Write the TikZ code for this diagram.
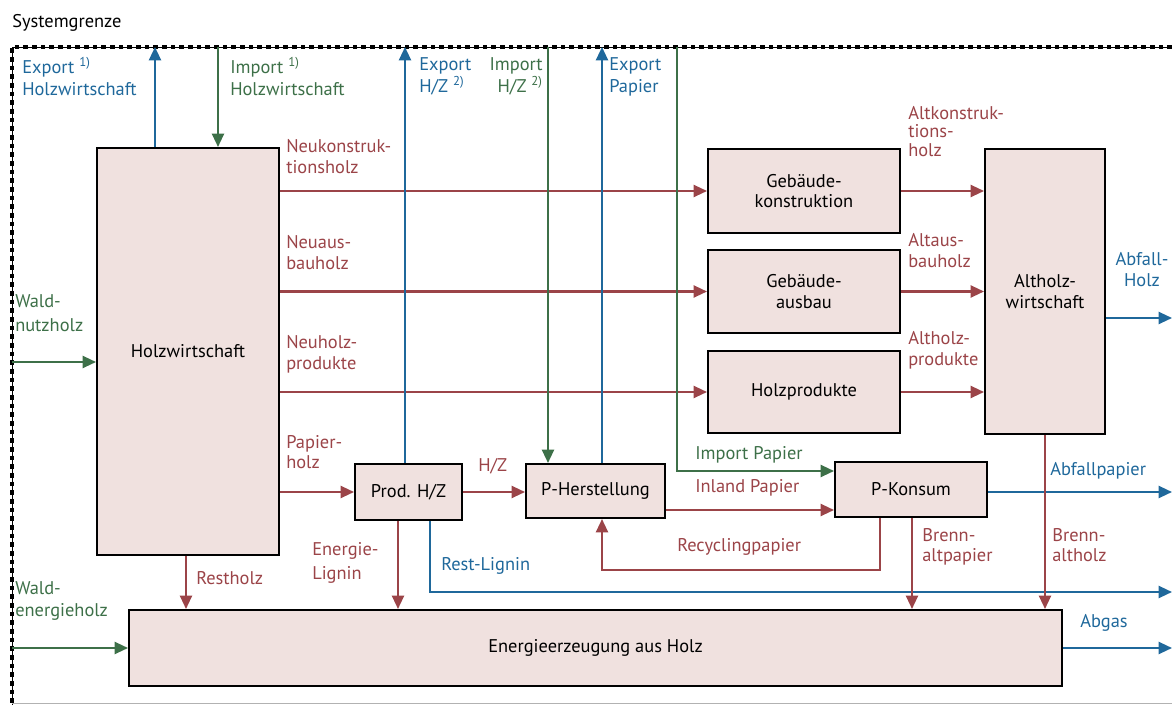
\documentclass[tikz,border=0pt]{standalone}
\usepackage{fontspec}
\setmainfont{PT Sans}
\usetikzlibrary{arrows.meta}

\definecolor{flowred}{RGB}{155,68,72}
\definecolor{flowblue}{RGB}{31,104,155}
\definecolor{flowgreen}{RGB}{61,112,72}
\definecolor{boxfill}{RGB}{240,225,223}

\tikzset{
	proc/.style={draw=black, line width=1.5pt, fill=boxfill, inner sep=0pt, align=center},
	flow/.style={line width=1.6pt, -{Triangle[length=10pt,width=9pt]}},
	redflow/.style={flow, color=flowred},
	blueflow/.style={flow, color=flowblue},
	greenflow/.style={flow, color=flowgreen},
	lab/.style={inner sep=0pt, align=left, anchor=north west},
	labline/.style={inner sep=0pt, anchor=west},
}

\begin{document}
\begin{tikzpicture}[x=0.75pt,y=0.75pt,yscale=-1,xscale=1, every node/.style={font=\fontsize{13.8}{15.5}\selectfont}]
	\useasboundingbox (0,0) rectangle (1172,705);
	
	%Systemgrenze
	\coordinate (sgTL) at (12,47);
	\coordinate (sgTR) at (1172,47);
	\coordinate (sgBL) at (12,705);
	\draw [black, line width=0.6pt] (sgTR) -- (sgTL) -- (sgBL);
	\draw [black, line width=3.5pt, dash pattern=on 3.5pt off 3pt] (sgTR) -- (sgTL) -- (sgBL);
	\draw [black!30, line width=1pt] (12,703.5) -- (1172,703.5);
	\node [labline] (t-sg) at (12,23) {Systemgrenze};
	
	%Shape: Processes
	\node [proc, minimum width=136.5pt, minimum height=305.25pt] (hw) at (188,351.5) {Holzwirtschaft};
	\node [proc, minimum width=144pt, minimum height=63pt] (gk) at (804,191) {Gebäude-\\konstruktion};
	\node [proc, minimum width=144pt, minimum height=62.25pt] (ga) at (804,291.5) {Gebäude-\\ausbau};
	\node [proc, minimum width=144pt, minimum height=61.5pt] (hp) at (804,392) {Holzprodukte};
	\node [proc, minimum width=90pt, minimum height=213.75pt] (ahw) at (1045,291.5) {Altholz-\\wirtschaft};
	\node [proc, minimum width=80.25pt, minimum height=42pt] (phz) at (408.5,492) {Prod. H/Z};
	\node [proc, minimum width=104.25pt, minimum height=40.5pt] (ph) at (595.5,491) {P-Herstellung};
	\node [proc, minimum width=114pt, minimum height=41.25pt] (pk) at (911,489.5) {P-Konsum};
	\node [proc, minimum width=699.75pt, minimum height=57pt] (ee) at (595.5,648) {Energieerzeugung aus Holz};
	
	%Points on the boundary and bends
	\coordinate (exHW) at (155,47);
	\coordinate (imHW) at (218,47);
	\coordinate (exHZ) at (405,47);
	\coordinate (imHZ) at (548,47);
	\coordinate (exP) at (602,47);
	\coordinate (imP) at (677,47);
	\coordinate (wn) at (12,362);
	\coordinate (we) at (12,648);
	\coordinate (ip) at (0,471);
	\coordinate (il) at (0,510);
	\coordinate (rc) at (880,570);
	\coordinate (rh) at (186,0);
	\coordinate (el) at (398,0);
	\coordinate (bp) at (912,0);
	\coordinate (rl) at (430,592);
	\coordinate (rlEnd) at (1172,592);
	\coordinate (ah) at (1172,318);
	\coordinate (ap) at (1172,492);
	\coordinate (ag) at (1172,648);
	
	%Red flows
	\draw [redflow] (hw.east |- gk.west) -- (gk.west);
	\draw [redflow] (hw.east |- ga.west) -- (ga.west);
	\draw [redflow] (hw.east |- hp.west) -- (hp.west);
	\draw [redflow] (hw.east |- phz.west) -- (phz.west);
	\draw [redflow] (phz.east) -- (ph.west |- phz.east);
	\draw [redflow] (gk.east) -- (gk.east -| ahw.west);
	\draw [redflow] (ga.east) -- (ga.east -| ahw.west);
	\draw [redflow] (hp.east) -- (hp.east -| ahw.west);
	\draw [redflow] (ph.east |- il) -- (pk.west |- il);
	\draw [redflow] (rc |- pk.south) -- (rc) -- (rc -| exP) -- (exP |- ph.south);
	\draw [redflow] (rh |- hw.south) -- (rh |- ee.north);
	\draw [redflow] (el |- phz.south) -- (el |- ee.north);
	
	%Blue flows
	\draw [blueflow] (exHW |- hw.north) -- (exHW);
	\draw [blueflow] (exHZ |- phz.north) -- (exHZ);
	\draw [blueflow] (exP |- ph.north) -- (exP);
	\draw [blueflow] (rl |- phz.south) -- (rl) -- (rlEnd);
	\draw [blueflow] (ahw.east |- ah) -- (ah);
	\draw [blueflow] (pk.east |- ap) -- (ap);
	\draw [blueflow] (ee.east) -- (ag);
	
	%Green flows
	\draw [greenflow] (wn) -- (wn -| hw.west);
	\draw [greenflow] (we) -- (ee.west);
	\draw [greenflow] (imHW) -- (imHW |- hw.north);
	\draw [greenflow] (imHZ) -- (imHZ |- ph.north);
	\draw [greenflow] (imP) |- (pk.west |- ip);
	
	%Fuel flows into the energy box
	\draw [redflow] (bp |- pk.south) -- (bp |- ee.north);
	\draw [redflow] (ahw.south) -- (ahw.south |- ee.north);
	
	% Text Node
	\node [lab, text=flowblue, font=\fontsize{13.8}{16.5}\selectfont] (t-exhw) at (22,57) {Export \textsuperscript{1)}\\Holzwirtschaft};
	\node [lab, text=flowgreen, font=\fontsize{13.8}{16.5}\selectfont] (t-imhw) at (230,57) {Import \textsuperscript{1)}\\Holzwirtschaft};
	\node [lab, text=flowblue, font=\fontsize{13.8}{16.5}\selectfont] (t-exhz) at (419,57) {Export\\H/Z \textsuperscript{2)}};
	\node [lab, text=flowgreen, anchor=north east, align=right, font=\fontsize{13.8}{16.5}\selectfont] (t-imhz) at (543,57) {Import\\H/Z \textsuperscript{2)}};
	\node [lab, text=flowblue, font=\fontsize{13.8}{16.5}\selectfont] (t-exp) at (609,57) {Export\\Papier};
	\node [lab, text=flowred] (t-nkh) at (286,139) {Neukonstruk-\\tionsholz};
	\node [lab, text=flowred] (t-nah) at (286,235) {Neuaus-\\bauholz};
	\node [lab, text=flowred] (t-nhp) at (286,335) {Neuholz-\\produkte};
	\node [lab, text=flowred] (t-ph) at (286,435) {Papier-\\holz};
	\node [lab, text=flowred, font=\fontsize{13.8}{13.8}\selectfont] (t-akh) at (908,106) {Altkonstruk-\\tions-\\holz};
	\node [lab, text=flowred] (t-aah) at (908,233) {Altaus-\\bauholz};
	\node [lab, text=flowred] (t-ahp) at (908,331) {Altholz-\\produkte};
	\node [lab, text=flowblue, anchor=north, align=center] (t-ah) at (1142,252) {Abfall-\\Holz};
	\node [lab, text=flowgreen, font=\fontsize{13.8}{18.5}\selectfont] (t-wn) at (15,294) {Wald-\\nutzholz};
	\node [lab, text=flowgreen, font=\fontsize{13.8}{17}\selectfont] (t-we) at (15,581) {Wald-\\energieholz};
	\node [labline, text=flowred] (t-rh) at (196,578) {Restholz};
	\node [lab, text=flowred, font=\fontsize{13.8}{18.5}\selectfont] (t-el) at (312,542) {Energie-\\Lignin};
	\node [labline, text=flowblue] (t-rl) at (441,566) {Rest-Lignin};
	\node [labline, text=flowred] (t-hz) at (478,466) {H/Z};
	\node [labline, text=flowgreen] (t-ip) at (695,455) {Import Papier};
	\node [labline, text=flowred] (t-il) at (695,488) {Inland Papier};
	\node [labline, text=flowred] (t-rc) at (677,547) {Recyclingpapier};
	\node [lab, text=flowred] (t-bp) at (922,528) {Brenn-\\altpapier};
	\node [lab, text=flowred] (t-bh) at (1052,528) {Brenn-\\altholz};
	\node [labline, text=flowblue] (t-ap) at (1050,471) {Abfallpapier};
	\node [labline, text=flowblue] (t-ag) at (1080,623) {Abgas};
\end{tikzpicture}
\end{document}
